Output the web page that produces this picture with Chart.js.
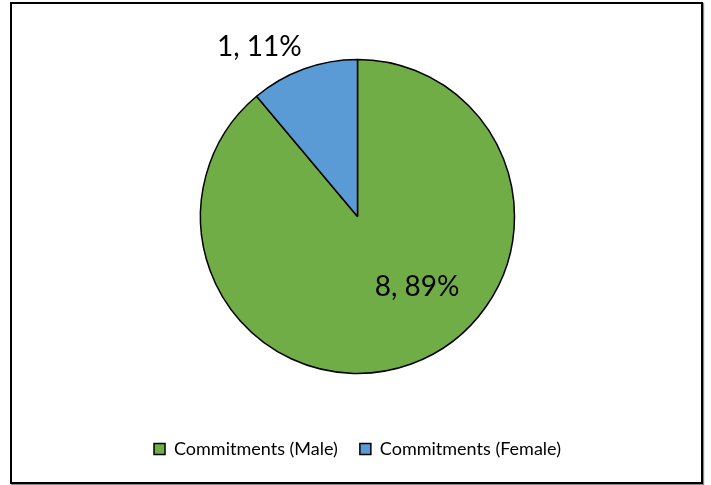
<!DOCTYPE html>
<html>
<head>
<meta charset="utf-8">
<script src="https://cdn.jsdelivr.net/npm/chart.js@4.4.0/dist/chart.umd.min.js"></script>
<style>
    html, body { margin: 0; padding: 0; background: #fff; }
    #wrap { position: relative; width: 711px; height: 485px; }
    #frame {
        position: absolute; left: 10px; top: 2px; width: 689px; height: 478px;
        border: 2px solid #000; box-shadow: 1px 1px 1px #888;
    }
    #c { position: absolute; left: 0; top: 0; }
</style>
</head>
<body>
<div id="wrap">
    <div id="frame"></div>
    <canvas id="c" width="711" height="485"></canvas>
</div>
<script>
/* pie of commitments by gender */

var categories = ['Commitments (Male)', 'Commitments (Female)'];
var commitments = [8, 1];
var sliceColors = ['#70AD47', '#5B9BD5'];

// label anchor per slice: degrees clockwise from 12 o'clock, distance as share of radius
var labelSpots = [{ deg: 140, dist: 0.59 }, { deg: 330, dist: 1.25 }];

var sliceLabels = {
    id: 'sliceLabels',
    afterDatasetsDraw: function (chart) {
        var ctx = chart.ctx;
        var meta = chart.getDatasetMeta(0);
        var data = chart.data.datasets[0].data;
        var total = data.reduce(function (a, b) { return a + b; }, 0);
        ctx.save();
        ctx.font = '28px Lato, "Liberation Sans", sans-serif';
        ctx.fillStyle = '#000';
        ctx.textAlign = 'center';
        ctx.textBaseline = 'middle';
        meta.data.forEach(function (arc, i) {
            var spot = labelSpots[i];
            var a = spot.deg * Math.PI / 180;
            var x = arc.x + Math.sin(a) * arc.outerRadius * spot.dist;
            var y = arc.y - Math.cos(a) * arc.outerRadius * spot.dist;
            var pct = Math.round(data[i] / total * 100);
            ctx.fillText(data[i] + ', ' + pct + '%', x, y);
        });
        ctx.restore();
    }
};

new Chart(document.getElementById('c').getContext('2d'), {
    type: 'pie',
    data: {
        labels: categories,
        datasets: [{
            data: commitments,
            backgroundColor: sliceColors,
            borderColor: '#000',
            borderWidth: 1.5
        }]
    },
    options: {
        responsive: false,
        animation: false,
        radius: 157,
        layout: { padding: { top: 15, left: 4, right: 0, bottom: 17 } },
        plugins: {
            tooltip: { enabled: false },
            legend: {
                position: 'bottom',
                labels: {
                    boxWidth: 11,
                    boxHeight: 11,
                    padding: 22,
                    color: '#000',
                    font: { family: 'Lato, "Liberation Sans", sans-serif', size: 18 },
                    generateLabels: function (chart) {
                        return chart.data.labels.map(function (l, i) {
                            return {
                                text: l,
                                fillStyle: sliceColors[i],
                                strokeStyle: '#000',
                                lineWidth: 1.5,
                                index: i
                            };
                        });
                    }
                }
            }
        }
    },
    plugins: [sliceLabels]
});
</script>
</body>
</html>
